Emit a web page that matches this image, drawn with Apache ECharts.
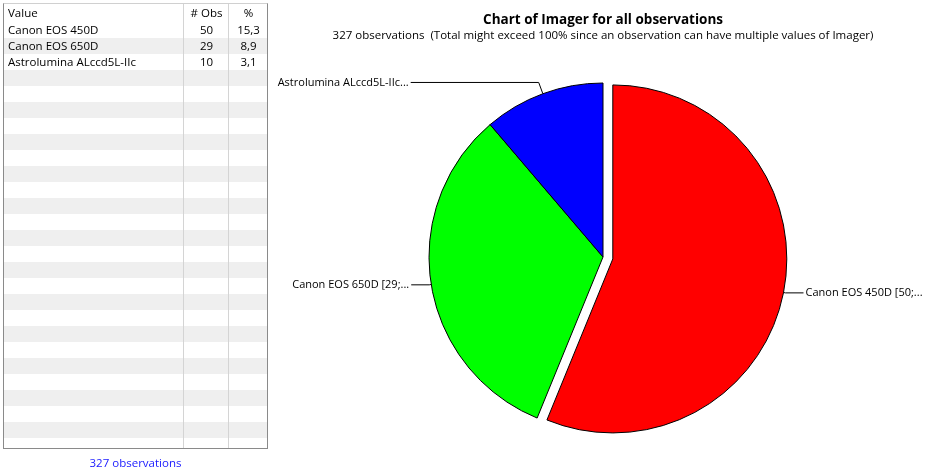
<!DOCTYPE html>
<html>
<head>
<meta charset="utf-8">
<script src="https://cdn.jsdelivr.net/npm/echarts@6/dist/echarts.min.js"></script>
<style>
  html, body { margin: 0; padding: 0; background: #fff; }
  #wrap { position: relative; width: 929px; height: 473px; overflow: hidden; }
  #chart { position: absolute; left: 0; top: 0; width: 929px; height: 473px; }
  #tbl { position: absolute; left: 3px; top: 3px; width: 263px; height: 444px; border: 1px solid #8a8a8a; border-top: 1px solid #d0d0d0; overflow: hidden; font-family: "Open Sans", "Noto Sans", sans-serif; font-size: 11.5px; color: #000; }
  #tbl .row { position: absolute; left: 0; width: 263px; height: 16px; line-height: 16px; }
  #tbl .c1 { position: absolute; left: 4px; }
  #tbl .c2 { position: absolute; left: 180px; width: 45px; text-align: center; }
  #tbl .c3 { position: absolute; left: 225px; width: 39px; text-align: center; }
  #tbl .vline { position: absolute; top: 0; bottom: 0; width: 1px; background: #d4d4d4; }
  #foot { position: absolute; left: 3px; width: 265px; top: 455px; text-align: center; font-family: "Open Sans", "Noto Sans", sans-serif; font-size: 11.5px; color: #1a1aff; }
</style>
</head>
<body>
<div id="wrap">
  <div id="chart"></div>
  <div id="tbl"></div>
  <div id="foot"></div>
</div>
<script>
// ---- data ----
const categories = ["Canon EOS 450D", "Canon EOS 650D", "Astrolumina ALccd5L-IIc"];
const obsCounts = [50, 29, 10];
const percents = ["15,3", "8,9", "3,1"];
const sliceLabels = ["Canon EOS 450D [50;...", "Canon EOS 650D [29;...", "Astrolumina ALccd5L-IIc..."];
const sliceColors = ["#ff0000", "#00ff00", "#0000ff"];
const totalObs = 327;
const tableHeaders = ["Value", "# Obs", "%"];
const titleText = "Chart of Imager for all observations";
const subtitleText = totalObs + " observations  (Total might exceed 100% since an observation can have multiple values of Imager)";

// ---- table ----
const tbl = document.getElementById('tbl');
let html = '';
const headerH = 18;
const rowH = 16;
const nRows = Math.ceil((444 - headerH) / rowH) + 1;
html += '<div class="row" style="top:0;height:' + headerH + 'px;line-height:' + headerH + 'px"><span class="c1">' + tableHeaders[0] + '</span><span class="c2">' + tableHeaders[1] + '</span><span class="c3">' + tableHeaders[2] + '</span></div>';
for (let i = 0; i < nRows; i++) {
  const top = headerH + i * rowH;
  const bg = (i % 2 === 1) ? '#efefef' : '#ffffff';
  let cells = '';
  if (i < categories.length) {
    cells = '<span class="c1">' + categories[i] + '</span><span class="c2">' + obsCounts[i] + '</span><span class="c3">' + percents[i] + '</span>';
  }
  html += '<div class="row" style="top:' + top + 'px;background:' + bg + '">' + cells + '</div>';
}
html += '<div class="vline" style="left:179px"></div><div class="vline" style="left:224px"></div>';
tbl.innerHTML = html;
document.getElementById('foot').textContent = totalObs + ' observations';

// ---- chart ----
const chart = echarts.init(document.getElementById('chart'), null, { renderer: 'canvas' });
const lineCfg = [
  { length: 2, length2: 18 },
  { length: 2, length2: 18 },
  { length: 12, length2: 128 }
];
const data = categories.map((c, i) => ({
  name: c,
  value: obsCounts[i],
  selected: i === 0,
  itemStyle: { color: sliceColors[i] },
  label: { formatter: sliceLabels[i] },
  labelLine: lineCfg[i]
}));
chart.setOption({
  animation: false,
  title: {
    text: titleText,
    subtext: subtitleText,
    left: 598,
    textAlign: 'center',
    top: 8,
    itemGap: 3,
    textStyle: { fontFamily: 'Open Sans', fontSize: 13.5, fontWeight: 'bold', color: '#000' },
    subtextStyle: { fontFamily: 'Open Sans', fontSize: 11.5, color: '#000' }
  },
  series: [{
    type: 'pie',
    center: [603, 257],
    radius: 174,
    startAngle: 90,
    clockwise: true,
    selectedMode: 'single',
    selectedOffset: 10,
    avoidLabelOverlap: false,
    itemStyle: { borderColor: '#000', borderWidth: 1 },
    emphasis: { disabled: true },
    label: {
      show: true,
      position: 'outside',
      fontFamily: 'Open Sans',
      fontSize: 11,
      color: '#000',
      distanceToLabelLine: 2
    },
    labelLine: { show: true, lineStyle: { color: '#000', width: 1 } },
    data: data
  }]
});
</script>
</body>
</html>
